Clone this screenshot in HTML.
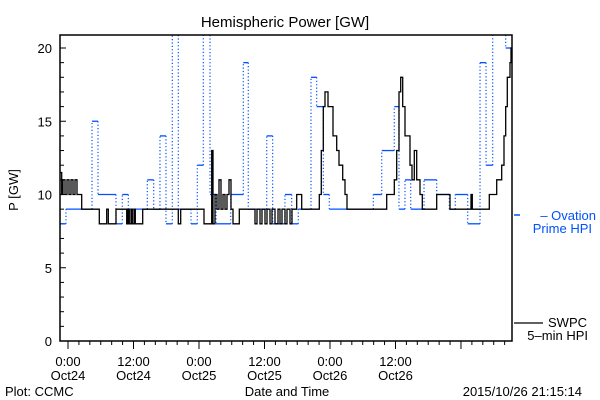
<!DOCTYPE html>
<html><head><meta charset="utf-8"><style>
body{margin:0;background:#fff;}
svg{display:block;font-family:"Liberation Sans",sans-serif;}
</style></head><body>
<svg id="chart" width="600" height="400" viewBox="0 0 600 400">
<rect width="600" height="400" fill="#fff"/>
<text x="285" y="27" font-size="15" text-anchor="middle">Hemispheric Power [GW]</text>
<text transform="translate(18,190) rotate(-90)" font-size="13" text-anchor="middle">P [GW]</text>
<g id="axes"></g>
<g id="series"></g>
<rect x="60" y="35" width="452" height="306" fill="none" stroke="#000" stroke-width="1.5"/>
<g>
<line x1="514" y1="215" x2="520" y2="215" stroke="#0050ff" stroke-width="1.5"/>
<text x="596" y="220" font-size="13" fill="#0050ff" text-anchor="end">– Ovation</text>
<text x="592" y="233" font-size="13" fill="#0050ff" text-anchor="end">Prime HPI</text>
</g>
<g>
<line x1="514" y1="323" x2="543" y2="323" stroke="#000" stroke-width="1.2"/>
<text x="587" y="327" font-size="13" text-anchor="end">SWPC</text>
<text x="588" y="340" font-size="13" text-anchor="end">5–min HPI</text>
</g>
<text x="5" y="396" font-size="13">Plot: CCMC</text>
<text x="287" y="396" font-size="13" text-anchor="middle">Date and Time</text>
<text x="582" y="396" font-size="13" text-anchor="end">2015/10/26 21:15:14</text>
</svg>
<script>
// hours since 2015-10-24 00:00
const swpcTimes=[-1.5,-1.15,-0.92,-0.55,-0.18,0.18,0.55,0.92,1.28,1.65,2.51,5.73,7.09,7.38,8.79,10.75,10.99,11.23,11.54,11.78,12.09,12.33,13.69,20.21,20.65,24.92,26.33,26.57,26.93,27.30,27.67,28.03,28.40,28.76,29.13,29.50,29.86,30.23,31.38,34.26,34.63,35.18,35.54,36.09,36.46,37.01,37.38,37.93,38.48,38.84,39.21,39.76,40.12,40.67,41.04,41.90,42.82,46.04,46.41,46.78,47.09,47.64,48.55,49.23,49.65,50.33,50.75,51.12,58.39,59.78,60.22,60.64,60.96,61.32,61.74,62.66,63.03,63.45,63.89,64.49,64.91,67.55,69.99,73.84,74.07,77.19,78.55,79.46,79.88,80.19,80.49,80.98,81.17];
const swpcValues=[11.5,10,11,10,11,10,11,10,11,10,9,8,9,8,9,8,9,8,9,8,9,8,9,8,9,8,13,8,10,9,11,9,10,9,10,11,9,8,9,8,9,8,9,8,9,8,9,8,9,8,9,8,9,8,9,10,9,10,13,16,17,16,14,13,12,11,10,9,10,11,13,17,18,16,14,12,11,13,11,10,9,10,9,10,9,10,11,12,14,16,18,19,20];
const ovTimes=[-1.47,-0.37,4.40,5.50,8.79,9.95,11.05,14.53,15.70,16.85,17.95,19.11,20.21,22.54,23.69,24.79,26.02,27.12,29.81,32.12,33.03,36.41,37.50,39.75,40.98,42.19,44.52,45.56,46.78,47.87,55.94,57.48,59.78,60.64,61.74,62.79,65.23,67.55,69.86,70.96,73.23,75.49,76.59,77.81,80.19];
const ovValues=[8,9,15,10,8,10,9,11,9,14,8,22,9,8,12,22,10,8,10,19,9,14,8,10,8,9,18,16,10,9,10,13,16,9,11,9,11,10,9,10,8,19,12,22,20];
const yTicks=[0,5,10,15,20];
const xMajorLabels=[["0:00","Oct24"],["12:00","Oct24"],["0:00","Oct25"],["12:00","Oct25"],["0:00","Oct26"],["12:00","Oct26"]];
const tMin=-1.47,tMax=81.3,endT=81.3;
const X=h=>68+h*5.458;
const Y=v=>Math.max(35,341-v*14.65);
const NS="http://www.w3.org/2000/svg";
function mk(tag,attrs,parent){const e=document.createElementNS(NS,tag);for(const k in attrs)e.setAttribute(k,attrs[k]);parent.appendChild(e);return e;}
const axes=document.getElementById('axes');
for(let v=0;v<=20;v++){
  const len=v%5===0?6:4;
  const t=mk('line',{x1:60,x2:60+len,y1:Y(v),y2:Y(v),stroke:'#000'},axes);
  
  
}
yTicks.forEach(v=>{
  const t=mk('text',{x:52,y:Y(v)+5,'font-size':13,'text-anchor':'end'},axes);
  t.textContent=v;
  
  
});
for(let h=-0;h>=-1;h-=2){}
for(let h=-2;h<=82;h+=2){
  if(h<tMin||h>tMax)continue;
  const major=h%12===0;
  const t=mk('line',{x1:X(h),x2:X(h),y1:341,y2:major?349:345,stroke:'#000'},axes);
  
  
}
xMajorLabels.forEach((l,i)=>{
  const t=mk('text',{x:X(i*12),y:366,'font-size':13,'text-anchor':'middle'},axes);
  t.textContent=l[0];
  
  
  const d=mk('text',{x:X(i*12),y:380,'font-size':13,'text-anchor':'middle'},axes);
  d.textContent=l[1];
  
  
});
const g=document.getElementById('series');
// Ovation: solid horizontals, dotted verticals
const og=mk('g',{},g);


for(let i=0;i<ovTimes.length;i++){
  const x1=X(ovTimes[i]),x2=X(i+1<ovTimes.length?ovTimes[i+1]:endT);
  if(ovValues[i]<=20.9){
    const h=mk('line',{x1:x1,x2:x2,y1:Y(ovValues[i]),y2:Y(ovValues[i]),stroke:'#0050ff','stroke-width':1.3},og);
    
    
  }
  if(i>0){
    const v=mk('line',{x1:x1,x2:x1,y1:Y(ovValues[i-1]),y2:Y(ovValues[i]),stroke:'#0050ff','stroke-width':1.2,'stroke-dasharray':'1.2 2.2'},og);
    
    
  }
}
// SWPC step line
let d='';
for(let i=0;i<swpcTimes.length;i++){
  const x1=X(swpcTimes[i]),x2=X(i+1<swpcTimes.length?swpcTimes[i+1]:endT),y=Y(swpcValues[i]);
  d+=(i===0?'M':'L')+x1.toFixed(1)+','+y.toFixed(1)+'L'+x2.toFixed(1)+','+y.toFixed(1);
}
const p=mk('path',{d:d,fill:'none',stroke:'#000','stroke-width':1.3},g);


</script>
</body></html>
